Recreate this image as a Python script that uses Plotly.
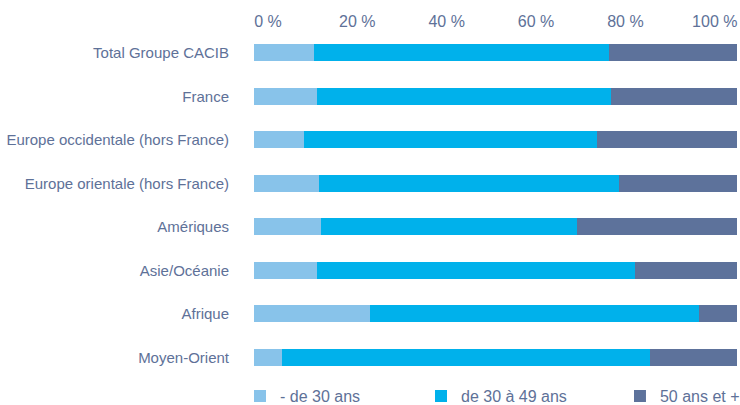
import plotly.graph_objects as go

categories = ["Total Groupe CACIB", "France", "Europe occidentale (hors France)",
              "Europe orientale (hors France)", "Amériques", "Asie/Océanie",
              "Afrique", "Moyen-Orient"]
moins_30 = [12.4, 13.1, 10.3, 13.5, 13.9, 13.1, 24.1, 5.7]
de_30_49 = [61.1, 60.8, 60.7, 62.0, 53.0, 65.7, 68.1, 76.3]
plus_50 = [26.5, 26.1, 29.0, 24.5, 33.1, 21.2, 7.8, 18.0]
series_names = ["- de 30 ans", "de 30 à 49 ans", "50 ans et +"]
tick_values = [0, 20, 40, 60, 80, 100]
tick_labels = ["0 %", "20 %", "40 %", "60 %", "80 %", "100 %"]

colors = ["#88C3EA", "#00B1EB", "#5D729B"]
text_color = "#5E7198"
font_family = "Liberation Sans, Arial, sans-serif"

fig = go.Figure()
legend_ids = ["legend", "legend2", "legend3"]
for name, vals, col, lg in zip(series_names, [moins_30, de_30_49, plus_50], colors, legend_ids):
    fig.add_trace(go.Bar(
        y=categories, x=vals, name=name, orientation="h",
        marker=dict(color=col, line=dict(width=0)),
        legend=lg,
    ))

legend_common = dict(orientation="h", yanchor="middle", y=0.022, yref="container",
                     xanchor="left", xref="container",
                     font=dict(family=font_family, size=16, color=text_color),
                     bgcolor="rgba(0,0,0,0)", borderwidth=0, itemsizing="constant")

fig.update_layout(
    barmode="stack",
    bargap=0.6,
    width=740, height=405,
    margin=dict(l=254, r=3, t=31, b=26),
    paper_bgcolor="white", plot_bgcolor="white",
    font=dict(family=font_family, size=14, color=text_color),
    xaxis=dict(range=[0, 100], showgrid=False, zeroline=False, showline=False,
               showticklabels=False, fixedrange=True, automargin=False),
    xaxis2=dict(overlaying="x", side="top", range=[-3.13, 104.97],
                tickvals=tick_values, ticktext=tick_labels, automargin=False,
                showgrid=False, zeroline=False, showline=False, ticks="",
                tickfont=dict(family=font_family, size=16, color=text_color)),
    yaxis=dict(autorange="reversed", showgrid=False, zeroline=False, showline=False,
               ticks="", ticklabelstandoff=24, automargin=False,
               tickfont=dict(family=font_family, size=15, color=text_color)),
    legend=dict(legend_common, x=0.3243),
    legend2=dict(legend_common, x=0.5689),
    legend3=dict(legend_common, x=0.8378),
    showlegend=True,
)

# invisible helper trace so the top label axis is drawn
fig.add_trace(go.Scatter(x=[0, 100], y=[categories[0], categories[0]], xaxis="x2",
                         mode="markers", marker=dict(opacity=0), showlegend=False,
                         hoverinfo="skip"))

fig.write_html("out.html", config={"displayModeBar": False},
               post_script="document.body.style.margin='0';")
